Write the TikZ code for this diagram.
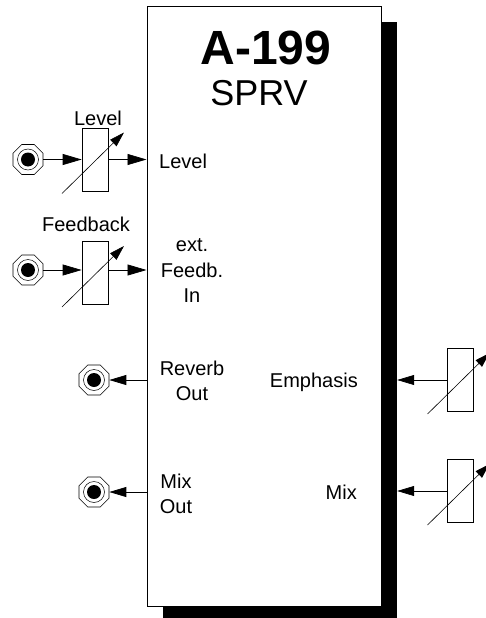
\documentclass[tikz,border=0pt]{standalone}
\usepackage{fontspec}
\setmainfont{Liberation Sans}
\usetikzlibrary{arrows.meta,shapes.geometric}
\begin{document}
\begin{tikzpicture}[x=1pt,y=-1pt,
  jack/.style={regular polygon, regular polygon sides=8, draw, line width=0.6pt,
    minimum size=32.5pt, inner sep=0pt,
    path picture={\draw[line width=0.5pt] (path picture bounding box.center) circle (10.5pt);
                  \fill (path picture bounding box.center) circle (7pt);}},
  potbox/.style={draw, line width=0.7pt, minimum width=26pt, minimum height=63pt, inner sep=0pt},
  sig/.style={line width=0.7pt, -{Triangle[length=19pt,width=11pt]}},
  outsig/.style={line width=0.7pt, -{Triangle[length=17pt,width=10pt]}},
  diag/.style={line width=0.6pt, -{Triangle[length=15pt,width=9pt]}},
  lbl/.style={font=\fontsize{20}{25.5}\selectfont, inner sep=0pt, align=center}
]
\useasboundingbox (0,0) rectangle (485,618);
% panel and shadow
\node[fill=black, minimum width=234pt, minimum height=596pt, inner sep=0pt] (shadow) at (280,320) {};
\node[draw, fill=white, line width=1pt, minimum width=234pt, minimum height=599pt, inner sep=0pt] (panel) at (264,306.5) {};
% titles
\node[font=\fontsize{48}{52}\selectfont\bfseries, inner sep=0pt] (title) at (266,48) {A-199};
\node[font=\fontsize{36}{40}\selectfont, inner sep=0pt] (sub) at (259,93) {SPRV};
% jacks
\node[jack] (j1) at (28,159.5) {};
\node[jack] (j2) at (28,270) {};
\node[jack] (j3) at (94,380) {};
\node[jack] (j4) at (94,492) {};
% pots
\node[potbox] (p1) at (95,159.5) {};
\node[potbox] (p2) at (95,273) {};
\node[potbox] (p3) at (460.5,380) {};
\node[potbox] (p4) at (460.5,491) {};
% pot labels
\node[lbl] (l1) at (98,118) {Level};
\node[lbl] (l2) at (86,224) {Feedback};
% panel labels
\node[lbl, anchor=west] (t1) at (159,161) {Level};
\node[lbl] (t2) at (192,271) {ext.\\Feedb.\\In};
\node[lbl] (t3) at (192,381) {Reverb\\Out};
\node[lbl] (t4) at (176,494) {Mix\\Out};
\node[lbl, anchor=east] (t5) at (358,382) {Emphasis};
\node[lbl, anchor=east] (t6) at (357,492) {Mix};
% inputs
\draw[sig] (j1) -- (p1.west);
\draw[sig] (p1.east) -- (p1.east -| panel.west);
\draw[sig] (j2) -- (p2.west |- j2);
\draw[sig] (p2.east |- j2) -- (j2 -| panel.west);
% outputs
\draw[outsig] (panel.west |- j3) -- (j3);
\draw[outsig] (panel.west |- j4) -- (j4);
% right controls
\draw[outsig] (p3.west) -- (p3.west -| shadow.east);
\draw[outsig] (p4.west) -- (p4.west -| shadow.east);
% pot diagonals
\foreach \p in {p1,p2,p3,p4}{
  \draw[diag] ([shift={(-33,34)}]\p.center) -- ([shift={(29,-27)}]\p.center);
}
\end{tikzpicture}
\end{document}
